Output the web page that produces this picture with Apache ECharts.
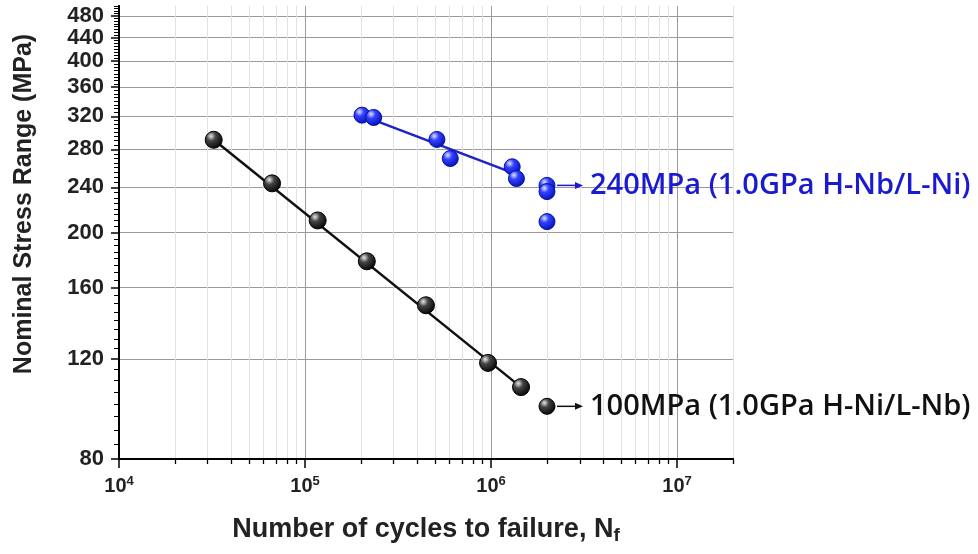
<!DOCTYPE html>
<html><head><meta charset="utf-8">
<script src="https://cdn.jsdelivr.net/npm/echarts@6/dist/echarts.min.js"></script>
<style>html,body{margin:0;padding:0;background:#fff}#c{width:978px;height:554px}</style>
</head><body><div id="c"></div>
<script>
// ---- data (cycles N, stress range S in MPa) ----
const blackN = [32300, 66500, 117000, 215000, 447000, 964000, 1450000];
const blackS = [291, 244, 210, 178, 149, 118, 107];
const blackRunoutN = [2000000];
const blackRunoutS = [99];
const blackFitN = [32300, 1450000];
const blackFitS = [291, 107];
const blueN = [202500, 234000, 512000, 604000, 1300000, 1370000];
const blueS = [321.5, 318.5, 291.4, 269.8, 260.9, 248.8];
const blueRunoutN = [2000000, 2000000, 2000000];
const blueRunoutS = [242, 236, 209];
const blueFitN = [203000, 1330000];
const blueFitS = [321, 254];
const blackLabel = '100MPa (1.0GPa H-Ni/L-Nb)';
const blueLabel = '240MPa (1.0GPa H-Nb/L-Ni)';
const xTickExps = [4, 5, 6, 7];
const yTickValues = [80, 120, 160, 200, 240, 280, 320, 360, 400, 440, 480];
const X_MIN = 1e4, X_MAX = 2e7, Y_MIN = 80, Y_MAX = 500;

const L = Math.log10;
const pts = (ns, ss) => ns.map((n, i) => [L(n), L(ss[i])]);
const xMinor = [];
for (let e = 4; e <= 7; e++) for (let k = 2; k <= 9; k++) { const v = k * Math.pow(10, e); if (v <= X_MAX) xMinor.push(L(v)); }
const yMinor = [];
for (let v = 80; v <= Y_MAX; v += 5) if (yTickValues.indexOf(v) < 0) yMinor.push(L(v));
// labels split over two overlapping axes so that none is dropped for crowding
const yLabelsA = yTickValues.filter((v, i) => i % 2 === 0).map(L);
const yLabelsB = yTickValues.filter((v, i) => i % 2 === 1).map(L);

function ball(hi, mid, dark) {
  return new echarts.graphic.RadialGradient(0.35, 0.3, 0.75, [
    { offset: 0, color: hi }, { offset: 0.35, color: mid }, { offset: 1, color: dark }]);
}
const blackBall = ball('#e8e8e8', '#444', '#000');
const blueBall = ball('#dfe4ff', '#3340ff', '#0010b0');

const chart = echarts.init(document.getElementById('c'), null, { renderer: 'canvas' });
const AX = 'Liberation Sans';
const axLine = { show: true, onZero: false, lineStyle: { color: '#000', width: 2 } };
const yLab = (vals) => ({
  show: true, customValues: vals, margin: 15, hideOverlap: false,
  formatter: v => String(Math.round(Math.pow(10, v))),
  fontFamily: AX, fontWeight: 'bold', fontSize: 22, color: '#222'
});
chart.setOption({
  animation: false,
  backgroundColor: '#fff',
  grid: { left: 119, right: 245, top: 6, bottom: 95, containLabel: false },
  xAxis: [{
    type: 'value', min: L(X_MIN), max: L(X_MAX), position: 'bottom',
    axisLine: axLine,
    axisTick: { show: true, customValues: xTickExps, length: 9, lineStyle: { color: '#000', width: 1.5 } },
    axisLabel: {
      show: true, customValues: xTickExps, margin: 16, hideOverlap: false,
      fontFamily: AX, fontWeight: 'bold', fontSize: 20, color: '#222',
      formatter: v => '{b|10}{s|' + Math.round(v) + '}',
      rich: {
        b: { fontFamily: AX, fontWeight: 'bold', fontSize: 20, color: '#222' },
        s: { fontFamily: AX, fontWeight: 'bold', fontSize: 13, color: '#222', padding: [0, 0, 10, 0] }
      }
    },
    splitLine: { show: true, lineStyle: { color: '#9a9a9a', width: 1 } }
  }, {
    type: 'value', min: L(X_MIN), max: L(X_MAX), position: 'bottom', offset: 0,
    axisLine: axLine,
    axisTick: { show: true, customValues: xMinor, length: 5, lineStyle: { color: '#000', width: 1.3 } },
    axisLabel: { show: false },
    splitLine: { show: true, lineStyle: { color: '#e2e2e2', width: 1 } }
  }],
  yAxis: [{
    type: 'value', min: L(Y_MIN), max: L(Y_MAX), position: 'left',
    axisLine: axLine,
    axisTick: { show: true, customValues: yTickValues.map(L), length: 8, lineStyle: { color: '#000', width: 1.5 } },
    axisLabel: yLab(yLabelsA),
    splitLine: { show: true, lineStyle: { color: '#9a9a9a', width: 1 } }
  }, {
    type: 'value', min: L(Y_MIN), max: L(Y_MAX), position: 'left', offset: 0,
    axisLine: axLine,
    axisTick: { show: true, customValues: yMinor, length: 5, lineStyle: { color: '#000', width: 1 } },
    axisLabel: yLab(yLabelsB),
    splitLine: { show: false }
  }],
  series: [
    { type: 'line', xAxisIndex: 0, yAxisIndex: 0, data: pts(blackFitN, blackFitS), symbol: 'none',
      lineStyle: { color: '#111', width: 2.5 }, z: 3 },
    { type: 'scatter', xAxisIndex: 0, yAxisIndex: 0, data: pts(blackN, blackS), symbolSize: 17,
      itemStyle: { color: blackBall, borderColor: '#000', borderWidth: 1, opacity: 1 }, z: 4 },
    { type: 'scatter', xAxisIndex: 0, yAxisIndex: 0, data: pts(blackRunoutN, blackRunoutS), symbolSize: 16,
      itemStyle: { color: blackBall, borderColor: '#000', borderWidth: 1, opacity: 1 }, z: 4 },
    { type: 'line', xAxisIndex: 0, yAxisIndex: 0, data: pts(blueFitN, blueFitS), symbol: 'none',
      lineStyle: { color: '#1e22c8', width: 2.5 }, z: 3 },
    { type: 'scatter', xAxisIndex: 0, yAxisIndex: 0, data: pts(blueN, blueS), symbolSize: 16,
      itemStyle: { color: blueBall, borderColor: '#0010b0', borderWidth: 1, opacity: 1 }, z: 4 },
    { type: 'scatter', xAxisIndex: 0, yAxisIndex: 0, data: pts(blueRunoutN, blueRunoutS), symbolSize: 16,
      itemStyle: { color: blueBall, borderColor: '#0010b0', borderWidth: 1, opacity: 1 }, z: 4 }
  ]
});

// annotations anchored on the run-out points
function arrowLabel(n, s, text, color) {
  const p = chart.convertToPixel({ xAxisIndex: 0, yAxisIndex: 0 }, [L(n), L(s)]);
  const x0 = p[0] + 10, x1 = p[0] + 36, y = p[1];
  return [
    { type: 'line', shape: { x1: x0, y1: y, x2: x1 - 6, y2: y }, style: { stroke: color, lineWidth: 1.5 }, z: 10 },
    { type: 'polygon', shape: { points: [[x1 - 8, y - 3.5], [x1, y], [x1 - 8, y + 3.5]] }, style: { fill: color }, z: 10 },
    { type: 'text', x: p[0] + 43, y: y, z: 10,
      style: { text: text, fill: color, font: '600 29px "Open Sans"', verticalAlign: 'middle', align: 'left' } }
  ];
}
const g = [];
g.push(...arrowLabel(blackRunoutN[0], blackRunoutS[0], blackLabel, '#111'));
g.push(...arrowLabel(blueRunoutN[0], blueRunoutS[0], blueLabel, '#1a1ad0'));
g.push({ type: 'text', x: 24, y: 204, rotation: Math.PI / 2, z: 10,
  style: { text: 'Nominal Stress Range (MPa)', fill: '#222', font: 'bold 25px "Liberation Sans"', align: 'center', verticalAlign: 'middle' } });
g.push({ type: 'text', x: 426, y: 530, z: 10,
  style: { text: '{a|Number of cycles to failure, N}{s|f}', align: 'center', verticalAlign: 'middle',
    rich: {
      a: { fontFamily: AX, fontWeight: 'bold', fontSize: 27, fill: '#222', color: '#222' },
      s: { fontFamily: AX, fontWeight: 'bold', fontSize: 19, fill: '#222', color: '#222', padding: [12, 0, 0, 0] }
    } } });
chart.setOption({ graphic: { elements: g } });
</script>
</body></html>
